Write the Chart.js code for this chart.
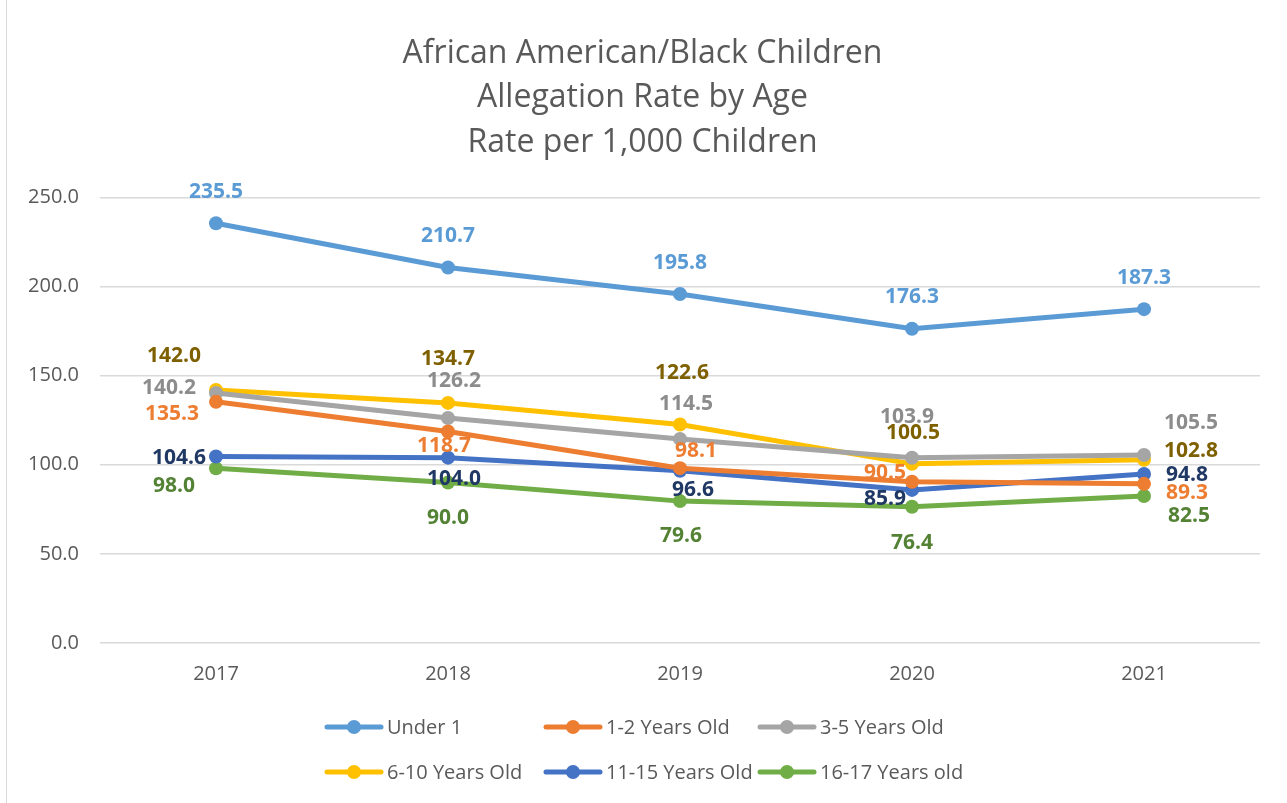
<!DOCTYPE html>
<html>
<head>
<meta charset="utf-8">
<script src="https://cdn.jsdelivr.net/npm/chart.js@4"></script>
<style>
  html, body { margin: 0; padding: 0; background: #fff; }
  #wrap { position: relative; width: 1287px; height: 803px; }
  #wrap:before { content: ""; position: absolute; left: 6px; top: 0; bottom: 0; border-left: 1px solid #d9d9d9; }
</style>
</head>
<body>
<div id="wrap"><canvas id="chart" width="1287" height="803"></canvas></div>
<script>
// Chart data
const years = ['2017', '2018', '2019', '2020', '2021'];
const under1 = [235.5, 210.7, 195.8, 176.3, 187.3];
const age1to2 = [135.3, 118.7, 98.1, 90.5, 89.3];
const age3to5 = [140.2, 126.2, 114.5, 103.9, 105.5];
const age6to10 = [142.0, 134.7, 122.6, 100.5, 102.8];
const age11to15 = [104.6, 104.0, 96.6, 85.9, 94.8];
const age16to17 = [98.0, 90.0, 79.6, 76.4, 82.5];
const yTicks = [0, 50, 100, 150, 200, 250];

const FONT = '"Open Sans", "Liberation Sans", sans-serif';
const GREY = '#595959';

// series styling (line colour, label colour, label offsets from the point)
const series = [
  { label: 'Under 1', data: under1, color: '#5B9BD5', text: '#5B9BD5',
    offs: [[0, -31], [0, -31], [0, -31], [0, -32], [0, -31]] },
  { label: '1-2 Years Old', data: age1to2, color: '#ED7D31', text: '#ED7D31',
    offs: [[-44, 12], [-4, 15], [16, -17], [-27, -9], [43, 9]] },
  { label: '3-5 Years Old', data: age3to5, color: '#A5A5A5', text: '#8C8C8C',
    offs: [[-47, -5], [6, -37], [6, -35], [-5, -41], [47, -32]] },
  { label: '6-10 Years Old', data: age6to10, color: '#FFC000', text: '#7F6000',
    offs: [[-42, -34], [0, -44], [2, -51], [1, -31], [47, -9]] },
  { label: '11-15 Years Old', data: age11to15, color: '#4472C4', text: '#203864',
    offs: [[-37, 1], [6, 21], [13, 19], [-27, 9], [43, 1]] },
  { label: '16-17 Years old', data: age16to17, color: '#70AD47', text: '#548235',
    offs: [[-42, 18], [0, 35], [1, 35], [0, 36], [45, 20]] }
];

// legend columns / rows
const legendCols = [327, 546, 760];
const legendRows = [727, 772];

const labelPlugin = {
  id: 'pointLabels',
  afterDatasetsDraw(chart) {
    const c = chart.ctx;
    c.save();
    c.font = 'bold 21px ' + FONT;
    c.textAlign = 'center';
    c.textBaseline = 'middle';
    series.forEach((s, i) => {
      const meta = chart.getDatasetMeta(i);
      meta.data.forEach((pt, j) => {
        c.fillStyle = s.text;
        c.fillText(s.data[j].toFixed(1), pt.x + s.offs[j][0], pt.y + s.offs[j][1]);
      });
    });
    c.restore();
  }
};

const legendPlugin = {
  id: 'lineLegend',
  afterDraw(chart) {
    const c = chart.ctx;
    c.save();
    c.font = '20px ' + FONT;
    c.textBaseline = 'middle';
    c.textAlign = 'left';
    series.forEach((s, i) => {
      const x = legendCols[i % 3];
      const y = legendRows[Math.floor(i / 3)];
      c.strokeStyle = s.color;
      c.lineWidth = 5;
      c.lineCap = 'round';
      c.beginPath();
      c.moveTo(x, y);
      c.lineTo(x + 54, y);
      c.stroke();
      c.fillStyle = s.color;
      c.beginPath();
      c.arc(x + 27, y, 7, 0, Math.PI * 2);
      c.fill();
      c.fillStyle = GREY;
      c.fillText(s.label, x + 60, y + 1);
    });
    c.restore();
  }
};

const ctx = document.getElementById('chart').getContext('2d');
new Chart(ctx, {
  type: 'line',
  data: {
    labels: years,
    datasets: series.map(s => ({
      label: s.label,
      data: s.data,
      borderColor: s.color,
      backgroundColor: s.color,
      borderWidth: 5,
      pointRadius: 7,
      pointHoverRadius: 7,
      pointBackgroundColor: s.color,
      pointBorderWidth: 0,
      tension: 0
    }))
  },
  options: {
    responsive: false,
    animation: false,
    layout: { padding: { left: 25, right: 27, top: 0, bottom: 115 } },
    plugins: {
      legend: { display: false },
      tooltip: { enabled: false },
      title: {
        display: true,
        text: ['African American/Black Children', 'Allegation Rate by Age', 'Rate per 1,000 Children'],
        color: GREY,
        font: { family: FONT, size: 32, weight: 'normal', lineHeight: 1.4 },
        padding: { top: 31, bottom: 32 }
      }
    },
    scales: {
      x: {
        offset: true,
        grid: { display: false, drawTicks: false },
        border: { display: false },
        ticks: { color: GREY, font: { family: FONT, size: 20 }, padding: 19 },
        afterFit: axis => { axis.height = 45; }
      },
      y: {
        min: yTicks[0],
        max: yTicks[yTicks.length - 1],
        afterBuildTicks: axis => { axis.ticks = yTicks.map(v => ({ value: v })); },
        grid: { color: '#D9D9D9', lineWidth: 1.5, drawTicks: false },
        border: { display: false },
        ticks: { color: GREY, font: { family: FONT, size: 20 }, padding: 21,
          callback: v => Number(v).toFixed(1) },
        afterFit: axis => { axis.width = 75; }
      }
    }
  },
  plugins: [labelPlugin, legendPlugin]
});
</script>
</body>
</html>
